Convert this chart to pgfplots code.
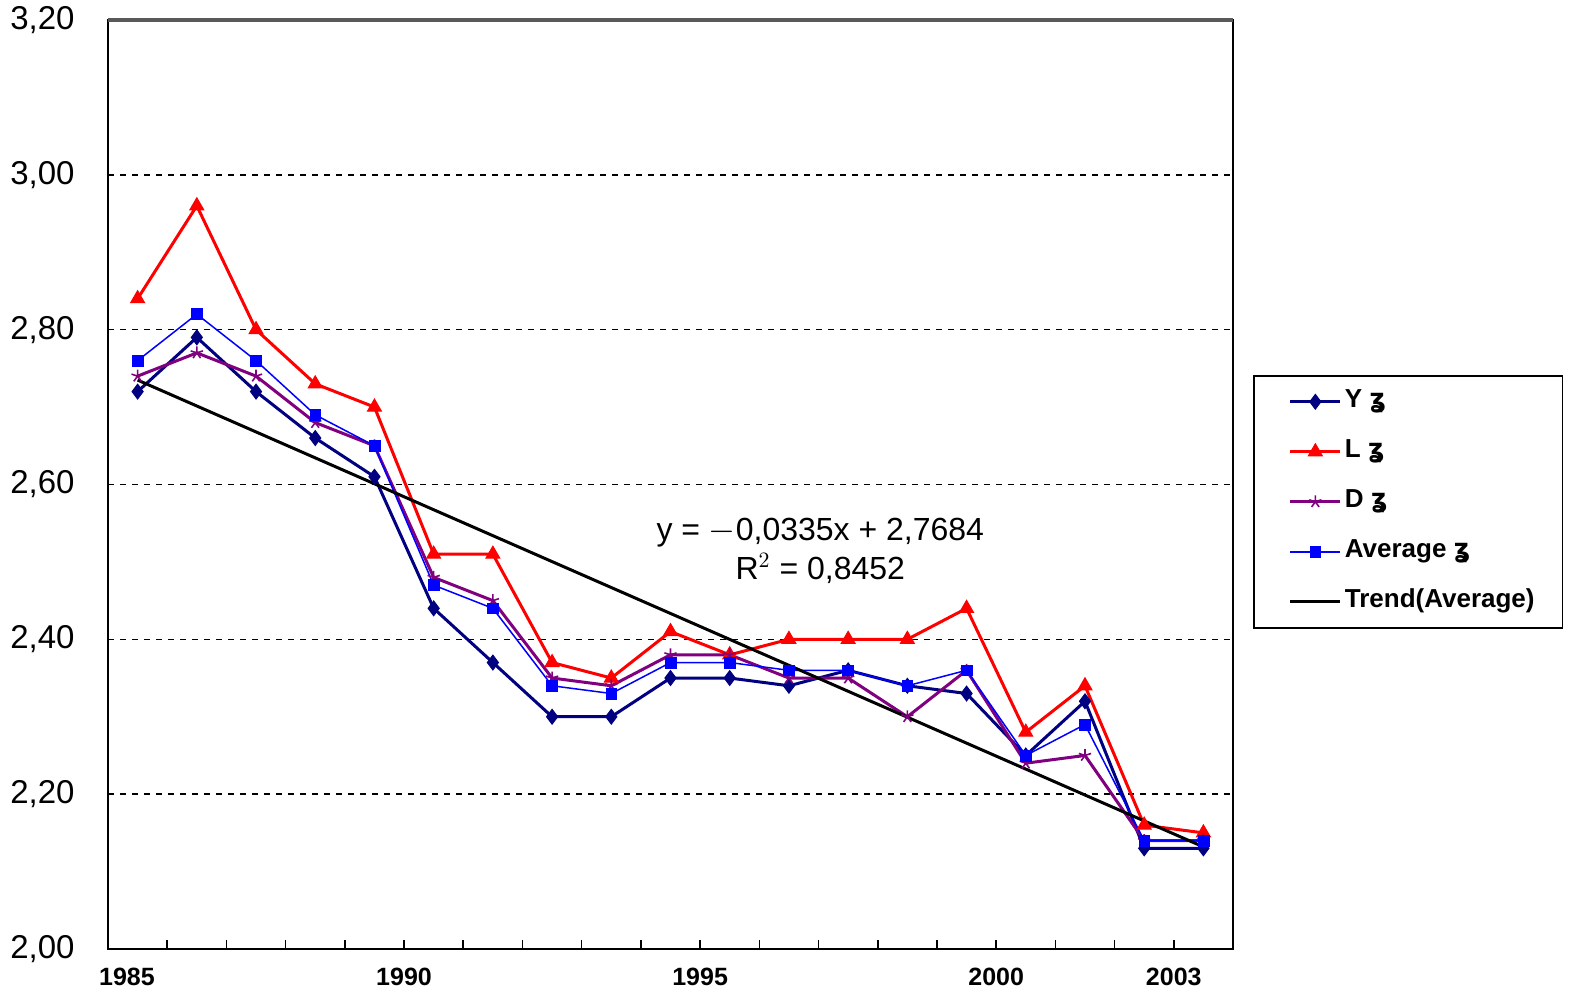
\documentclass[border=0pt]{standalone}
\usepackage{pgfplots}
\usepackage{pgfplotstable}
\pgfplotsset{compat=1.18}
\usepackage{fontspec}
\setmainfont{Liberation Sans}
\newfontfamily\djv{DejaVu Sans}
\definecolor{navyY}{RGB}{0,0,128}
\definecolor{redL}{RGB}{255,0,0}
\definecolor{purD}{RGB}{128,0,128}
\definecolor{bluA}{RGB}{0,0,255}

\pgfplotstableread{
x Y L D A
0.5 2.72 2.84 2.74 2.76
1.5 2.79 2.96 2.77 2.82
2.5 2.72 2.80 2.74 2.76
3.5 2.66 2.73 2.68 2.69
4.5 2.61 2.70 2.65 2.65
5.5 2.44 2.51 2.48 2.47
6.5 2.37 2.51 2.45 2.44
7.5 2.30 2.37 2.35 2.34
8.5 2.30 2.35 2.34 2.33
9.5 2.35 2.41 2.38 2.37
10.5 2.35 2.38 2.38 2.37
11.5 2.34 2.40 2.35 2.36
12.5 2.36 2.40 2.35 2.36
13.5 2.34 2.40 2.30 2.34
14.5 2.33 2.44 2.36 2.36
15.5 2.25 2.28 2.24 2.25
16.5 2.32 2.34 2.25 2.29
17.5 2.13 2.16 2.14 2.14
18.5 2.13 2.15 2.14 2.14
}\data

\begin{document}
\begin{tikzpicture}
\path[use as bounding box] (0,0) rectangle (788.5pt,500pt);
\begin{axis}[
  at={(54pt,25.5pt)}, anchor=south west,
  scale only axis, width=562.5pt, height=464.5pt,
  xmin=0, xmax=19, ymin=2, ymax=3.2,
  xtick={0,1,...,19},
  xtick pos=bottom,
  xticklabels={\hspace*{19pt}1985,,,,,1990,,,,,1995,,,,,2000,,,2003,},
  xticklabel style={inner sep=0pt, yshift=-9.5pt, font=\bfseries\fontsize{12.5}{12.5}\selectfont},
  ytick={2,2.2,...,3.21},
  yticklabel style={inner sep=0pt, xshift=-16.5pt, font=\fontsize{16.5}{16.5}\selectfont,
    /pgf/number format/.cd, fixed, fixed zerofill, precision=2, use comma, assume math mode=true},
  tick align=inside,
  major tick length=4.5pt,
  ytick style={draw=none},
  xtick style={black, line width=0.8pt},
  ymajorgrids,
  grid style={dashed, black, line width=0.7pt},
  axis line style={black, line width=1pt},
  clip=false,
  legend image code/.code={\path (0pt,0pt) (30pt,0pt); \draw[mark repeat=2,mark phase=2,#1] plot coordinates {(3.5pt,0pt) (16pt,0pt) (28.5pt,0pt)};},
  legend style={at={(1.0178,0.6179)}, anchor=north west, draw=black, line width=0.8pt,
    inner xsep=14pt, inner ysep=7pt, row sep=13pt,
    font=\bfseries\fontsize{13}{13}\selectfont,
    nodes={inner sep=0pt, text height=9pt, text depth=3pt}},
  legend cell align=left,
  after end axis/.code={\draw[black!65, line width=2pt] (rel axis cs:0,1) -- (rel axis cs:1,1);},
]
\addplot[navyY, line width=1.5pt, mark=diamond*, mark size=3.7pt, mark options={fill=navyY, line width=0.5pt}] table[x=x,y=Y] {\data};
\addlegendentry{Y {\djv ʓ}}
\addplot[redL, line width=1.5pt, mark=triangle*, mark size=4pt, mark options={fill=redL, line width=0.5pt}] table[x=x,y=L] {\data};
\addlegendentry{L {\djv ʓ}}
\addplot[purD, line width=1.5pt, mark=star, mark size=3.2pt, mark options={line width=0.8pt}] table[x=x,y=D] {\data};
\addlegendentry{D {\djv ʓ}}
\addplot[bluA, line width=0.75pt, mark=square*, mark size=2.7pt, mark options={fill=bluA, line width=0.3pt}] table[x=x,y=A] {\data};
\addlegendentry{Average {\djv ʓ}}
\addplot[black, line width=1.5pt] coordinates {(0.5,2.7349) (18.5,2.1319)};
\addlegendentry{Trend(Average)}
\node[align=center, font=\fontsize{16}{19.5}\selectfont] at (axis cs:12.03,2.514)
  {y = $-$0,0335x + 2,7684\\R$^{2}$ = 0,8452};
\end{axis}
\end{tikzpicture}
\end{document}
